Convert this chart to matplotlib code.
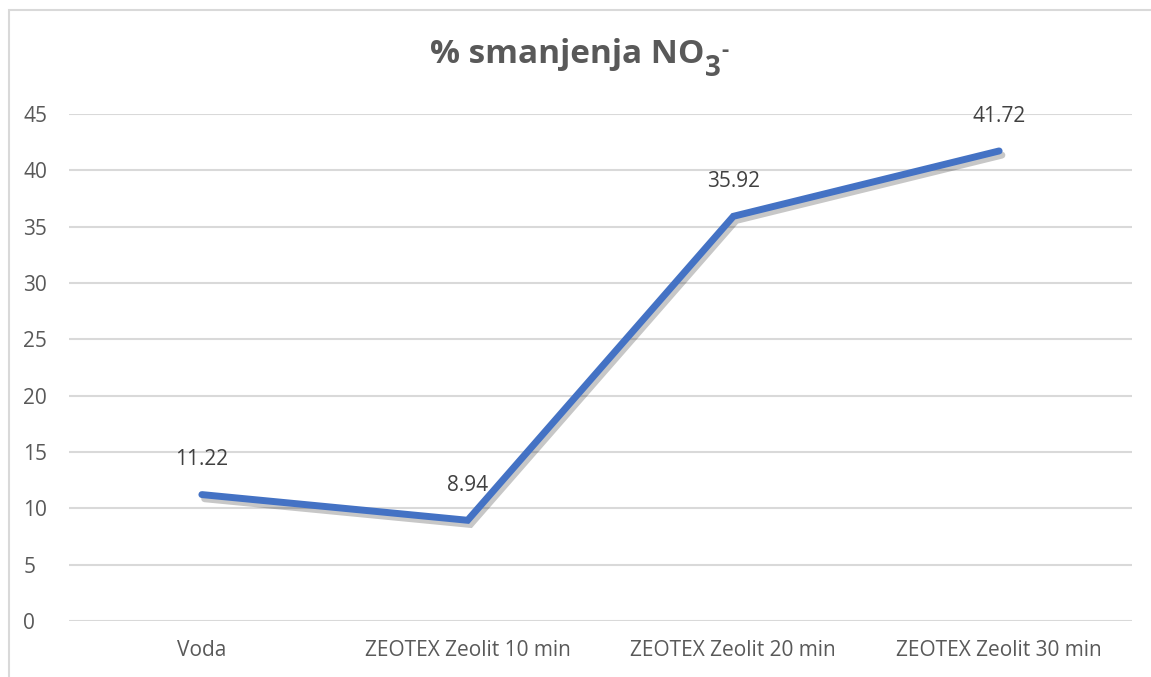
import numpy as np
import matplotlib.pyplot as plt
import matplotlib.patheffects as pe
from matplotlib.patches import Rectangle

plt.rcParams['font.family'] = ['Open Sans', 'DejaVu Sans']

categories = ["Voda", "ZEOTEX Zeolit 10 min", "ZEOTEX Zeolit 20 min", "ZEOTEX Zeolit 30 min"]
values = [11.22, 8.94, 35.92, 41.72]
yticks = [0, 5, 10, 15, 20, 25, 30, 35, 40, 45]

W, H = 1151, 677
fig = plt.figure(figsize=(W / 100, H / 100), dpi=100)
ax = fig.add_axes([69 / W, 1 - 621 / H, (1132 - 69) / W, (621 - 114) / H])

# outer chart border (cropped at right and bottom)
fig.patches.append(Rectangle((9 / W, -0.1), 1.2, 1 - 10 / H + 0.1, transform=fig.transFigure,
                             fill=False, edgecolor='#d9d9d9', linewidth=1.5))

x = np.arange(len(categories))
ax.plot(x, values, color='#4472C4', linewidth=5, solid_capstyle='round', solid_joinstyle='miter',
        path_effects=[pe.SimpleLineShadow(offset=(2, -3), shadow_color='black', alpha=0.22),
                      pe.Normal()], zorder=3)

for xi, v in zip(x, values):
    ax.annotate(f"{v:.2f}", (xi, v), xytext=(0, 25), textcoords='offset points',
                ha='center', va='center', fontsize=15, color='#404040')

ax.set_xlim(-0.5, len(categories) - 0.5)
ax.set_ylim(0, 45)
ax.set_yticks(yticks)
ax.set_xticks(x)
ax.set_xticklabels(categories)
ax.grid(axis='y', color='#d9d9d9', linewidth=1.5)
ax.set_axisbelow(True)
for s in ax.spines.values():
    s.set_visible(False)
ax.tick_params(length=0, labelsize=15, labelcolor='#595959')
ax.tick_params(axis='y', pad=33)
ax.tick_params(axis='x', pad=14)
for lbl in ax.get_yticklabels():
    lbl.set_horizontalalignment('left')

# title with subscript 3 and superscript hyphen
title = fig.text(430 / W, 1 - 63 / H, "% smanjenja NO", ha='left', va='baseline',
                 fontsize=24, fontweight='bold', color='#595959')
fig.canvas.draw()
bb = title.get_window_extent()
fig.text((bb.x1 + 1) / W, 1 - 76 / H, "3", ha='left', va='baseline',
         fontsize=20, fontweight='bold', color='#595959')
fig.text((bb.x1 + 17) / W, 1 - 50 / H, "-", ha='left', va='center',
         fontsize=16, fontweight='bold', color='#595959')

fig.savefig('out.png', dpi=100)
